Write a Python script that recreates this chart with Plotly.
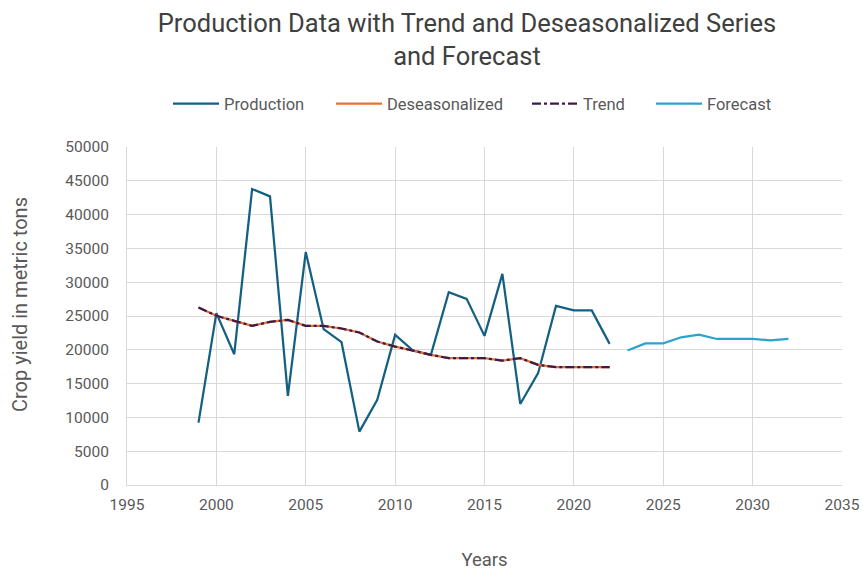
import plotly.graph_objects as go

# Observed production, 1999-2022
prod_years = list(range(1999, 2023))
production = [9230, 25420, 19350, 43780, 42700, 13180, 34450, 23050, 21130, 7900,
              12590, 22210, 19900, 19250, 28530, 27540, 22060, 31240, 11990, 16540,
              26500, 25820, 25820, 20880]

# Seasonally adjusted series and fitted trend
deseasonalized = [26260, 25030, 24290, 23540, 24140, 24430, 23540, 23540, 23150, 22560,
                  21220, 20480, 19890, 19250, 18760, 18760, 18760, 18410, 18760, 17770,
                  17420, 17420, 17420, 17420]
trend = [26260, 25030, 24290, 23540, 24140, 24430, 23540, 23540, 23150, 22560,
         21220, 20480, 19890, 19250, 18760, 18760, 18760, 18410, 18760, 17770,
         17420, 17420, 17420, 17420]

# Forecast, 2023-2032
fc_years = list(range(2023, 2033))
forecast = [19900, 20950, 20950, 21850, 22250, 21600, 21600, 21600, 21400, 21600]

FONT = "Roboto"
TICK_COLOR = "#595959"
GRID = "#d9d9d9"
W, H = 863, 571

fig = go.Figure()
fig.add_trace(go.Scatter(x=prod_years, y=production, mode="lines", name="Production",
                         line=dict(color="#156082", width=2.25), legend="legend"))
fig.add_trace(go.Scatter(x=prod_years, y=deseasonalized, mode="lines", name="Deseasonalized",
                         line=dict(color="#E97132", width=2.25), legend="legend2"))
fig.add_trace(go.Scatter(x=prod_years, y=trend, mode="lines", name="Trend",
                         line=dict(color="#3b1c48", width=2.25, dash="dashdot"), legend="legend3"))
fig.add_trace(go.Scatter(x=fc_years, y=forecast, mode="lines", name="Forecast",
                         line=dict(color="#2CA3CE", width=2.25), legend="legend4"))


def legend_at(px_left):
    # one legend box per series so the entries sit at their own horizontal offsets
    return dict(orientation="h", x=px_left / W, xanchor="left", xref="container",
                y=1 - 104 / H, yref="container", yanchor="middle",
                font=dict(family=FONT, size=16.5, color=TICK_COLOR),
                itemwidth=46, bgcolor="rgba(0,0,0,0)")


fig.update_layout(
    width=W, height=H,
    paper_bgcolor="white", plot_bgcolor="white",
    margin=dict(l=127, r=21, t=147, b=86, autoexpand=False),
    font=dict(family=FONT, color=TICK_COLOR, size=15),
    title=dict(text="Production Data with Trend and Deseasonalized Series<br>and Forecast",
               x=467 / W, xanchor="center", y=1 - 32 / H, yanchor="middle",
               font=dict(family=FONT, size=25.5, color="#404040")),
    legend=legend_at(168),
    legend2=legend_at(331),
    legend3=legend_at(527),
    legend4=legend_at(651),
    showlegend=True,
    annotations=[dict(text="Crop yield in metric tons", textangle=-90,
                      x=20 / W, y=1 - 305 / H, xref="paper", yref="paper",
                      xanchor="center", yanchor="middle", showarrow=False,
                      font=dict(family=FONT, size=20, color=TICK_COLOR))],
)
# annotation coordinates above are given in container fractions; convert to paper
pw, ph = W - 127 - 21, H - 147 - 86
ann = fig.layout.annotations[0]
ann.x = (20 - 127) / pw
ann.y = (H - 86 - 305) / ph

fig.update_xaxes(range=[1995, 2035], tickmode="linear", tick0=1995, dtick=5,
                 showgrid=True, gridcolor=GRID, gridwidth=1, automargin=False,
                 showline=True, linecolor=GRID, linewidth=1, zeroline=False,
                 ticks="", ticklabelstandoff=5, tickfont=dict(size=15.5, color=TICK_COLOR),
                 title=dict(text="Years", font=dict(size=18.5, color=TICK_COLOR), standoff=44))
fig.update_yaxes(range=[0, 50000], tickmode="linear", tick0=0, dtick=5000, tickformat="d",
                 showgrid=True, gridcolor=GRID, gridwidth=1, automargin=False,
                 showline=True, linecolor=GRID, linewidth=1, zeroline=False,
                 ticks="", ticklabelstandoff=14, tickfont=dict(size=15.5, color=TICK_COLOR))

fig.write_html("out.html")
